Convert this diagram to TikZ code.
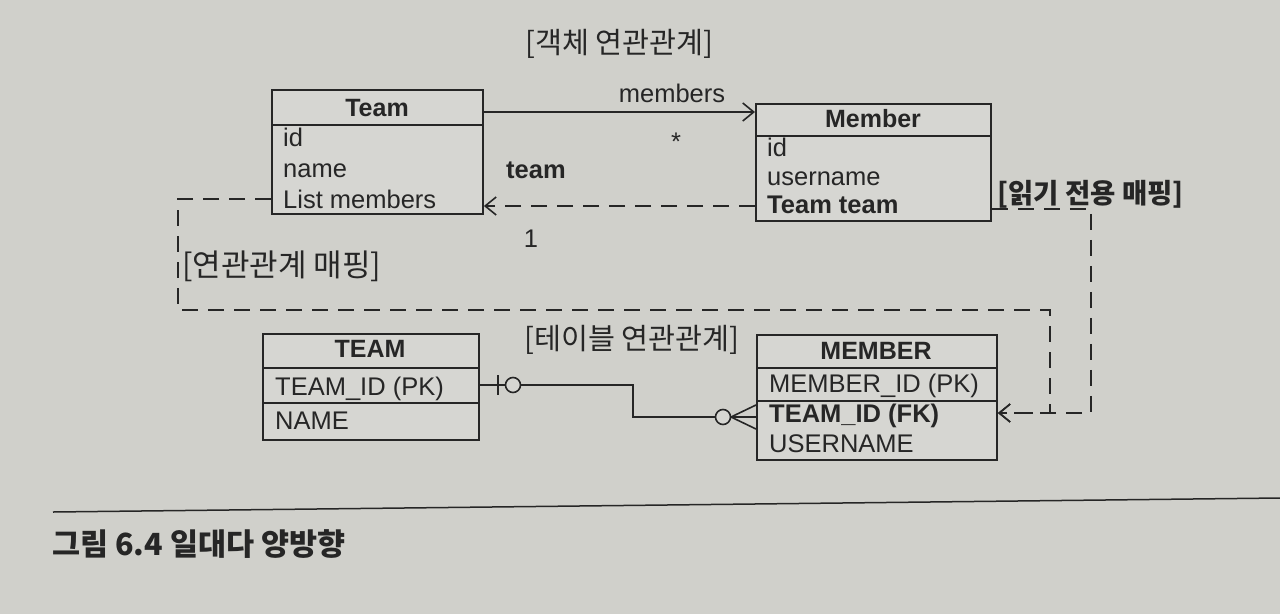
\documentclass[tikz,border=0pt]{standalone}
\usepackage{fontspec}
\setmainfont{Liberation Sans}
\newfontfamily\kr{Noto Sans CJK KR}
\usetikzlibrary{arrows.meta}
\definecolor{bg}{RGB}{208,208,203}
\definecolor{ink}{RGB}{38,38,38}
\definecolor{boxfill}{RGB}{214,214,210}
\begin{document}
\begin{tikzpicture}[x=1pt,y=-1pt,
  box/.style={draw=ink, line width=1.9pt, fill=boxfill, anchor=north west, inner sep=0pt},
  hdr/.style={font=\fontsize{25}{30}\selectfont\bfseries, text=ink, anchor=base, inner sep=0pt},
  attr/.style={font=\fontsize{25.5}{30}\selectfont, text=ink, anchor=base west, inner sep=0pt},
  battr/.style={attr, font=\fontsize{25.5}{30}\selectfont\bfseries},
  krlabel/.style={font=\kr\fontsize{29.3}{34}\selectfont, text=ink, anchor=base west, inner sep=0pt},
  sep/.style={draw=ink, line width=1.9pt},
  conn/.style={draw=ink, line width=1.6pt},
  dconn/.style={conn, dash pattern=on 16pt off 10pt},
  barb/.style={-{Straight Barb[length=11pt,width=18pt,line width=1.6pt]}}
]
\useasboundingbox (0,0) rectangle (1280,614);
\fill[bg] (0,0) rectangle (1280,614);

% ---------- object model ----------
\node[krlabel] (objtitle) at (525,53) {[객체 연관관계]};

\node[box, minimum width=211pt, minimum height=124pt] (team) at (271,89) {};
\draw[sep] (team.north west |- 0,125) -- (team.north east |- 0,125);
\node[hdr] (teamhdr) at (377,116) {Team};
\node[attr] (tid) at (283,146) {id};
\node[attr] (tname) at (283,177) {name};
\node[attr] (tlist) at (283,208) {List members};

\node[box, minimum width=235pt, minimum height=117pt] (member) at (755,103) {};
\draw[sep] (member.north west |- 0,136) -- (member.north east |- 0,136);
\node[hdr] (memberhdr) at (873,127) {Member};
\node[attr] (mid) at (767,156) {id};
\node[attr] (muser) at (767,185) {username};
\node[battr] (mteam) at (767,213) {Team team};

\draw[conn,barb] (team.east |- 0,112) -- (member.west |- 0,112);
\node[attr, anchor=base] (lmembers) at (672,102) {members};
\node[attr, anchor=base] (lstar) at (676,150) {*};
\node[battr] (lteam) at (506,178) {team};
\node[attr, anchor=base] (lone) at (531,247) {1};
\draw[dconn,barb] (member.west |- 0,206) -- (team.east |- 0,206);

% ---------- mapping dashes ----------
\node[krlabel, font=\kr\fontsize{31}{34}\selectfont] (lmap) at (182,276) {[연관관계 매핑]};
\node[krlabel, font=\kr\fontsize{27.5}{32}\selectfont\bfseries] (lro) at (997,203) {[읽기 전용 매핑]};

% ---------- table model ----------
\node[krlabel] (tbltitle) at (524,349) {[테이블 연관관계]};

\node[box, minimum width=216pt, minimum height=106pt] (TEAM) at (262,333) {};
\draw[sep] (TEAM.north west |- 0,368) -- (TEAM.north east |- 0,368);
\draw[sep] (TEAM.north west |- 0,403) -- (TEAM.north east |- 0,403);
\node[hdr] (TEAMhdr) at (370,357) {TEAM};
\node[attr] (tpk) at (275,395) {TEAM\_ID (PK)};
\node[attr] (tnm) at (275,429) {NAME};

\node[box, minimum width=240pt, minimum height=125pt] (MEMBER) at (756,334) {};
\draw[sep] (MEMBER.north west |- 0,368) -- (MEMBER.north east |- 0,368);
\draw[sep] (MEMBER.north west |- 0,401) -- (MEMBER.north east |- 0,401);
\node[hdr] (MEMBERhdr) at (876,359) {MEMBER};
\node[attr] (mpk) at (769,392) {MEMBER\_ID (PK)};
\node[battr] (mfk) at (769,422) {TEAM\_ID (FK)};
\node[attr] (mun) at (769,452) {USERNAME};

% dashed mapping paths
\draw[dconn,barb] (team.west |- 0,199) -| (178,310) -- (1050,310) |- (MEMBER.east |- 0,413);
\draw[dconn,barb] (member.east |- 0,209) -| (1091,413) -- (MEMBER.east |- 0,413);

% ER relationship
\draw[conn] (TEAM.east |- 0,385) -- (633,385) |- (MEMBER.west |- 0,417);
\draw[conn] (498,375) -- (498,395);
\draw[conn, fill=boxfill] (513,385) circle[radius=7.5pt];
\draw[conn, fill=boxfill] (723,417) circle[radius=7.5pt];
\draw[conn] (731,417) -- (MEMBER.west |- 0,405);
\draw[conn] (731,417) -- (MEMBER.west |- 0,429);

% ---------- caption ----------
\draw[ink, line width=1.5pt] (53,512) -- (1280,498);
\node[krlabel, font=\kr\fontsize{30.5}{34}\selectfont\bfseries] (caption) at (52,555) {그림 6.4 일대다 양방향};
\end{tikzpicture}
\end{document}
